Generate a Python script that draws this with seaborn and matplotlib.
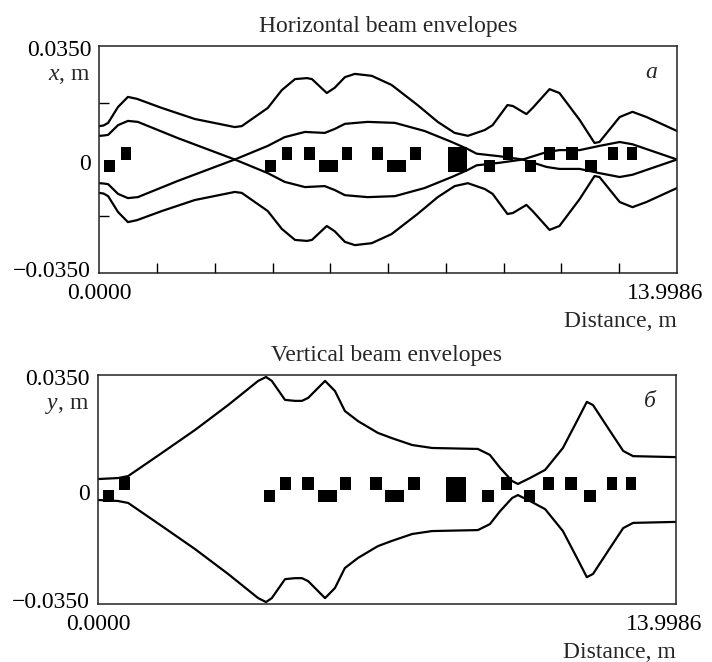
import numpy as np
import matplotlib
matplotlib.use("Agg")
import matplotlib.pyplot as plt
import matplotlib.transforms as mtransforms
import seaborn as sns

S_END = 13.9986  # m

# horizontal plane: outer envelope (drawn +/-)
hx_s = [0.00, 0.10, 0.21, 0.45, 0.69, 0.91, 1.51, 2.31, 3.28, 3.45, 4.08,
        4.42, 4.74, 5.03, 5.15, 5.51, 5.70, 5.95, 6.19, 6.60, 7.08, 7.71,
        8.20, 8.61, 8.93, 9.34, 9.53, 9.89, 10.02, 10.35, 10.50, 10.91,
        11.15, 11.64, 12.00, 12.12, 12.61, 12.92, 13.26, 13.9986]
hx_outer = [0.0103, 0.0105, 0.0113, 0.0162, 0.0193, 0.0187, 0.0159, 0.0125,
            0.0100, 0.0103, 0.0159, 0.0214, 0.0248, 0.0251, 0.0248, 0.0205,
            0.0221, 0.0254, 0.0264, 0.0258, 0.0230, 0.0168, 0.0116, 0.0082,
            0.0073, 0.0091, 0.0106, 0.0168, 0.0165, 0.0140, 0.0159, 0.0217,
            0.0205, 0.0122, 0.0051, 0.0054, 0.0131, 0.0147, 0.0131, 0.0088]

# horizontal plane: inner trace that crosses the axis (drawn +/-)
hx_in_s = [0.00, 0.10, 0.21, 0.45, 0.69, 0.93, 1.90, 3.28, 4.08, 4.49, 4.98,
           5.46, 5.70, 5.95, 6.50, 7.16, 7.88, 8.54, 8.93, 9.14, 9.70, 10.26,
           10.84, 11.15, 11.64, 12.12, 12.61, 12.92, 13.9986]
hx_inner = [0.0073, 0.0074, 0.0076, 0.0106, 0.0119, 0.0116, 0.0066, 0.0000,
            -0.0042, -0.0069, -0.0085, -0.0082, -0.0094, -0.0110, -0.0116,
            -0.0113, -0.0088, -0.0054, -0.0032, -0.0018, -0.0010, 0.0000,
            0.0023, 0.0029, 0.0029, 0.0042, 0.0054, 0.0047, 0.0000]

# vertical plane envelope (drawn +/-)
vy_s = [0.00, 0.48, 0.73, 1.55, 2.35, 3.15, 3.88, 4.07, 4.21, 4.53, 4.77,
        4.94, 5.09, 5.50, 5.74, 5.98, 6.30, 6.78, 7.12, 7.61, 8.09, 9.20,
        9.49, 9.74, 10.03, 10.17, 10.46, 10.83, 11.26, 11.60, 11.84, 11.99,
        12.40, 12.72, 12.96, 13.9986]
vy_env = [0.0032, 0.0035, 0.0041, 0.0112, 0.0182, 0.0258, 0.0332, 0.0344,
          0.0332, 0.0274, 0.0271, 0.0271, 0.0280, 0.0332, 0.0301, 0.0240,
          0.0209, 0.0173, 0.0157, 0.0136, 0.0127, 0.0124, 0.0106, 0.0066,
          0.0026, 0.0017, 0.0035, 0.0060, 0.0127, 0.0209, 0.0268, 0.0258,
          0.0179, 0.0118, 0.0102, 0.0099]

# quadrupoles: start, length (m) and side (+1 above, -1 below, 0 both)
quad_start = [0.11, 0.52, 4.01, 4.42, 4.95, 5.32, 5.87, 6.60, 6.96, 7.52,
              8.44, 9.31, 9.77, 10.31, 10.77, 11.32, 11.78, 12.32, 12.78]
quad_len = [0.27, 0.25, 0.27, 0.25, 0.27, 0.46, 0.25, 0.27, 0.46, 0.27,
            0.48, 0.27, 0.25, 0.27, 0.27, 0.27, 0.27, 0.25, 0.25]
quad_side = [-1, 1, -1, 1, 1, -1, 1, 1, -1, 1, 0, -1, 1, -1, 1, 1, -1, 1, 1]
QUAD_H = 0.0039

sns.set_theme(style="white")
plt.rcParams["font.family"] = ["Liberation Serif", "DejaVu Serif"]
plt.rcParams["font.size"] = 17
plt.rcParams["mathtext.fontset"] = "custom"
plt.rcParams["mathtext.rm"] = "Liberation Serif"
plt.rcParams["mathtext.it"] = "Liberation Serif:italic"

fig = plt.figure(figsize=(7.12, 6.62), dpi=100)
ax_h = fig.add_axes([0.1397, 0.5876, 0.8111, 0.3429])
ax_v = fig.add_axes([0.1376, 0.0876, 0.8118, 0.3459])


def shift(label, dx_px, dy_px):
    off = mtransforms.ScaledTranslation(dx_px / 100, dy_px / 100, fig.dpi_scale_trans)
    label.set_transform(label.get_transform() + off)


def setup_panel(ax, title, ylab, letter, inner_ticks):
    side = np.array(quad_side)
    heights = np.where(side == 0, 2 * QUAD_H, QUAD_H)
    bottoms = np.where(side == 1, 0.0, -QUAD_H)
    ax.bar(quad_start, heights, width=quad_len, bottom=bottoms,
           align="edge", color="black", linewidth=0, zorder=3)

    ax.set_xlim(0, S_END)
    ax.set_ylim(-0.035, 0.035)
    ax.set_xticks([0, S_END], ["0.0000", "13.9986"])
    ax.set_yticks([-0.035, 0, 0.035], ["\u22120.0350", "0", "0.0350"])
    ax.tick_params(which="major", length=0, labelsize=17, colors="black")
    ax.tick_params(axis="x", which="major", pad=7)
    ax.tick_params(axis="y", which="major", pad=6)
    if inner_ticks:
        ax.set_xticks(np.linspace(0, S_END, 11)[1:-1], minor=True)
        ax.set_yticks([-0.0175, 0.0175], minor=True)
        ax.tick_params(which="minor", direction="in", length=7, width=1,
                       color="black", bottom=True, left=True)
    for sp in ax.spines.values():
        sp.set_color("#222222")
        sp.set_linewidth(1.1)

    ylabs = ax.get_yticklabels()
    shift(ylabs[0], 0, 4)
    shift(ylabs[1], 0, -2)
    shift(ylabs[2], 0, -2)
    shift(ax.get_xticklabels()[1], -12, 0)

    ax.set_title(title, pad=10, fontsize=17)
    ax.set_ylabel(ylab, rotation=0, ha="right", va="center", fontsize=17)
    ax.yaxis.set_label_coords(-0.0147, 0.868)
    ax.set_xlabel("Distance, m", loc="right", labelpad=5, fontsize=17)
    ax.text(0.955, 0.885, letter, transform=ax.transAxes, style="italic",
            ha="center", va="center", fontsize=17)


for sign in (1, -1):
    sns.lineplot(x=hx_s, y=sign * np.array(hx_outer), ax=ax_h, color="black",
                 lw=1.6, sort=False, estimator=None, legend=False)
    sns.lineplot(x=hx_in_s, y=sign * np.array(hx_inner), ax=ax_h, color="black",
                 lw=1.6, sort=False, estimator=None, legend=False)
    sns.lineplot(x=vy_s, y=sign * np.array(vy_env), ax=ax_v, color="black",
                 lw=1.6, sort=False, estimator=None, legend=False)

setup_panel(ax_h, "Horizontal beam envelopes", "$x$, m", "a", True)
setup_panel(ax_v, "Vertical beam envelopes", "$y$, m", "\u0431", False)

fig.savefig("out.png", dpi=100)
